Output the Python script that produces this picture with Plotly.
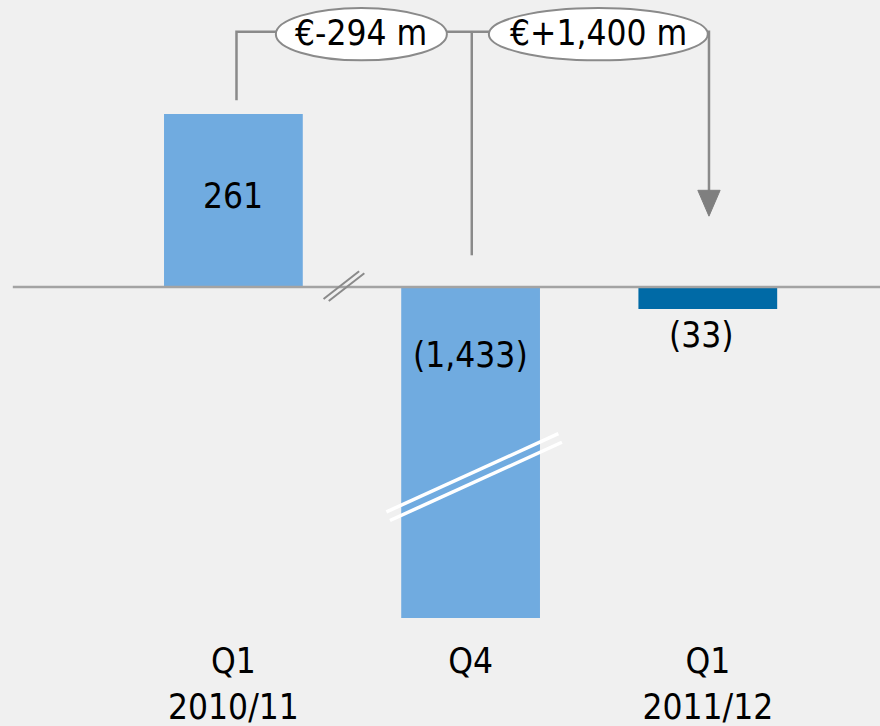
import plotly.graph_objects as go

categories = ["Q1<br>2010/11", "Q4", "Q1<br>2011/12"]
values = [261, -1433, -33]
bar_colors = ["#70ABE0", "#70ABE0", "#006AA6"]
bridge_labels = ["€-294 m", "€+1,400 m"]

FONT = "Liberation Sans Narrow, DejaVu Sans Condensed, Liberation Sans, sans-serif"
GRAY = "#8A8A8A"

W, H = 880, 726
x_idx = list(range(len(categories)))

def fmt(v):
    s = f"{abs(v):,}"
    return f"({s})" if v < 0 else s

fig = go.Figure()
fig.add_trace(go.Bar(
    x=x_idx, y=values, marker=dict(color=bar_colors, line=dict(width=0)),
    width=0.585, hoverinfo="skip", cliponaxis=True,
))

# value labels
label_y = [137, -103, -72]
xshift = [0, 0, -6]
for i, v in enumerate(values):
    fig.add_annotation(x=i, y=label_y[i], text=fmt(v), showarrow=False,
                       xshift=xshift[i], font=dict(size=35, color="black", family=FONT))

shapes = []
# baseline
shapes.append(dict(type="line", x0=-0.93, x1=2.73, y0=0, y1=0,
                   line=dict(color="#A3A3A3", width=2.5), layer="above"))
# axis break marks on baseline
for dx in (0, 0.022):
    shapes.append(dict(type="line", x0=0.38 + dx, x1=0.53 + dx, y0=-18 - 3 * dx / 0.022, y1=24 - 3 * dx / 0.022,
                       line=dict(color="#8A8A8A", width=2)))
# break on the Q4 bar (white double line)
for dx, dy in ((0, 0), (0.015, -13)):
    shapes.append(dict(type="line", x0=0.645 + dx, x1=1.37 + dx, y0=-339 + dy, y1=-221 + dy,
                       line=dict(color="white", width=3.5), layer="above"))

top_y = 385
# bracket from Q1 2010/11
shapes.append(dict(type="path", path=f"M 0.013,{values[0] + 21} L 0.013,{top_y} L 0.18,{top_y}",
                   line=dict(color=GRAY, width=2.5)))
# between ellipses + vertical down to Q4
shapes.append(dict(type="line", x0=0.90, x1=1.08, y0=top_y, y1=top_y, line=dict(color=GRAY, width=2.5)))
shapes.append(dict(type="line", x0=1.005, x1=1.005, y0=top_y, y1=48, line=dict(color=GRAY, width=2.5)))
# from second ellipse down to Q1 2011/12 arrow
shapes.append(dict(type="path", path=f"M 1.99,{top_y} L 2.005,{top_y} L 2.005,140",
                   line=dict(color=GRAY, width=2.5)))
shapes.append(dict(type="path", path="M 1.958,146 L 2.052,146 L 2.005,107 Z",
                   fillcolor="#7F7F7F", line=dict(color="#7F7F7F", width=1)))
# ellipses
ell = [(0.179, 0.900), (1.077, 2.0)]
for (x0, x1) in ell:
    shapes.append(dict(type="circle", x0=x0, x1=x1, y0=342, y1=421,
                       fillcolor="white", line=dict(color=GRAY, width=2)))
for (x0, x1), t in zip(ell, bridge_labels):
    fig.add_annotation(x=(x0 + x1) / 2, y=383, text=t, showarrow=False,
                       font=dict(size=35, color="black", family=FONT))

fig.update_layout(
    width=W, height=H,
    margin=dict(l=0, r=0, t=0, b=108, autoexpand=False),
    paper_bgcolor="#F0F0F0", plot_bgcolor="#F0F0F0",
    showlegend=False, shapes=shapes,
    font=dict(family=FONT, size=35, color="black"),
    xaxis=dict(range=[-0.984, 2.726], tickmode="array", tickvals=x_idx, ticktext=categories,
               showgrid=False, zeroline=False, showline=False, ticks="", automargin=False,
               ticklabelstandoff=19, tickfont=dict(size=35, family=FONT, color="black"),
               fixedrange=True),
    yaxis=dict(range=[-499, 433], visible=False, showgrid=False, zeroline=False,
               automargin=False, fixedrange=True),
)

fig.write_html("out.html", config={"displayModeBar": False})
with open("out.html", encoding="utf-8") as f:
    html = f.read()
html = html.replace("<body>", '<body style="margin:0;padding:0;overflow:hidden;background:#F0F0F0">', 1)
with open("out.html", "w", encoding="utf-8") as f:
    f.write(html)
